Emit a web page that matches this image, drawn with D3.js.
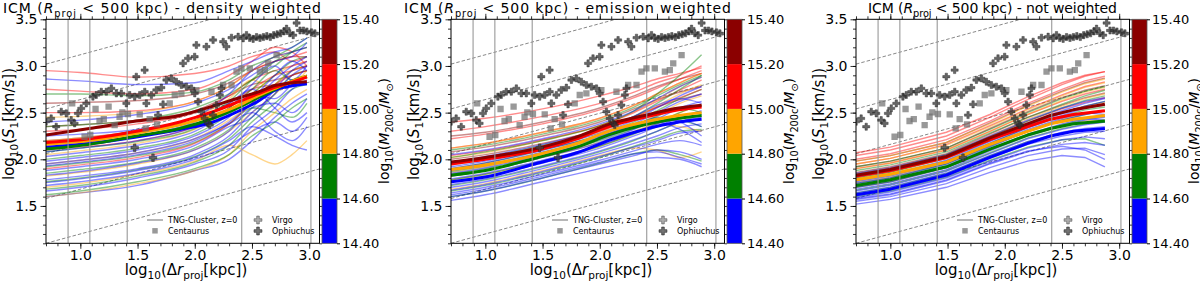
<!DOCTYPE html>
<html><head><meta charset="utf-8">
<script src="https://cdn.jsdelivr.net/npm/d3@7"></script>
<style>body{margin:0;background:#fff}svg text{font-family:"DejaVu Sans",sans-serif;fill:#000}</style>
</head><body><svg id="c" width="1200" height="281"></svg>
<script>
// ---------------- DATA ----------------
const panelTitles = ["density weighted", "emission weighted", "not weighted"];
const massBins = [14.4, 14.6, 14.8, 15.0, 15.2, 15.4];
const binColors = ["#0000ff", "#008000", "#ffa500", "#ff0000", "#8b0000"];
const cbTickLabels = ["14.40", "14.60", "14.80", "15.00", "15.20", "15.40"];
const xTicks = [1.0, 1.5, 2.0, 2.5, 3.0];
const yTicks = [1.5, 2.0, 2.5, 3.0, 3.5];
const vLines = [0.893, 1.083, 1.41, 2.41, 3.015];
const kolmoStart = [1.10, 1.58, 2.06, 2.54, 3.02]; // value at x=0.7 of slope-1/3 guides

// thin-line knots per panel
const p1Knots = [0.7, 1.0, 1.5, 2.0, 2.3, 2.5, 2.7, 2.85, 2.98];
const p2Knots = [0.7, 1.0, 1.5, 2.0, 2.3, 2.5, 2.7, 2.89];
const p3Knots = [0.7, 1.0, 1.49, 1.87, 2.2, 2.5, 2.7, 2.875];

const p1Blue = [
 [1.60,1.64,1.72,1.88,2.00,2.20,2.45,2.60,2.70],[1.66,1.70,1.80,1.95,2.10,2.35,2.55,2.75,2.85],
 [1.72,1.76,1.85,2.00,2.15,2.30,2.40,2.30,2.45],[1.78,1.82,1.90,2.05,2.25,2.50,2.70,2.90,3.00],
 [1.83,1.87,1.96,2.10,2.30,2.55,2.60,2.50,2.65],[1.88,1.92,2.00,2.15,2.35,2.45,2.75,2.95,3.05],
 [1.93,1.97,2.05,2.20,2.40,2.60,2.85,3.00,3.10],[1.98,2.02,2.10,2.25,2.45,2.70,2.65,2.80,2.90],
 [2.03,2.07,2.15,2.30,2.50,2.65,2.90,3.05,2.95],[2.08,2.12,2.20,2.35,2.55,2.80,3.00,2.85,3.00],
 [2.15,2.18,2.25,2.40,2.60,2.75,2.55,2.40,2.50],[2.25,2.27,2.32,2.45,2.70,2.95,3.10,3.15,3.20],
 [2.40,2.42,2.48,2.60,2.75,2.90,3.05,3.10,3.25],[2.86,2.84,2.80,2.82,2.95,3.05,3.15,3.20,3.30],
 [1.75,1.79,1.88,2.02,2.20,2.35,2.25,2.15,2.10],[1.95,1.99,2.07,2.22,2.38,2.50,2.30,2.20,2.35]];
const p1Green = [
 [1.68,1.72,1.82,1.97,2.15,2.40,2.60,2.75,2.80],[1.76,1.80,1.89,2.03,2.22,2.45,2.70,2.90,2.95],
 [1.85,1.89,1.97,2.12,2.32,2.55,2.80,2.95,3.00],[1.92,1.96,2.04,2.18,2.38,2.55,2.50,2.45,2.60],
 [2.00,2.04,2.12,2.27,2.48,2.70,2.90,3.05,3.10],[2.08,2.12,2.19,2.33,2.55,2.75,2.95,2.85,2.90],
 [2.18,2.21,2.28,2.42,2.62,2.85,3.05,3.15,3.20],[2.35,2.37,2.42,2.55,2.70,2.85,3.00,3.15,3.25],
 [2.70,2.70,2.68,2.72,2.85,3.00,3.10,3.20,3.30],[1.62,1.66,1.76,1.90,2.05,2.25,2.40,2.55,2.65]];
const p1Orange = [
 [1.70,1.74,1.84,1.98,2.15,2.05,1.95,2.05,2.20],[1.82,1.86,1.95,2.10,2.30,2.50,2.70,2.85,2.90],
 [1.95,1.99,2.07,2.22,2.42,2.60,2.80,2.95,3.00],[2.05,2.09,2.17,2.32,2.52,2.70,2.90,3.00,3.05],
 [2.20,2.23,2.30,2.45,2.65,2.85,2.75,2.80,2.95],[2.45,2.46,2.50,2.62,2.78,2.95,3.10,3.15,3.20],
 [1.60,1.64,1.74,1.88,2.05,2.30,2.50,2.65,2.75]];
const p1Red = [
 [2.95,2.93,2.88,2.92,3.00,3.10,3.15,3.05,3.10],[2.75,2.73,2.70,2.75,2.90,3.05,3.20,3.15,3.00],
 [2.50,2.50,2.52,2.62,2.78,2.95,3.05,3.10,3.15],[2.30,2.32,2.38,2.50,2.68,2.85,2.95,3.00,3.05],
 [2.10,2.13,2.20,2.35,2.55,2.75,2.90,2.95,3.00],[1.90,1.94,2.02,2.17,2.38,2.60,2.80,2.90,2.95]];
const p1DarkRed = [
 [2.60,2.61,2.63,2.70,2.82,2.95,3.05,3.10,3.10],[2.35,2.37,2.42,2.52,2.68,2.80,2.85,2.90,2.95],
 [2.20,2.23,2.30,2.42,2.60,2.75,2.80,2.82,2.90]];

const p2Blue = [
 [1.56,1.62,1.76,1.90,1.98,2.02,2.00,1.92],[1.60,1.66,1.80,1.95,2.04,2.10,2.08,2.00],
 [1.64,1.70,1.84,1.99,2.09,2.16,2.20,2.15],[1.67,1.73,1.87,2.03,2.13,2.20,2.28,2.30],
 [1.70,1.76,1.90,2.06,2.17,2.25,2.34,2.38],[1.73,1.79,1.93,2.09,2.21,2.30,2.40,2.45],
 [1.76,1.82,1.96,2.12,2.25,2.35,2.45,2.52],[1.79,1.85,1.99,2.15,2.28,2.38,2.42,2.35],
 [1.82,1.88,2.02,2.18,2.32,2.43,2.55,2.62],[1.85,1.91,2.05,2.21,2.35,2.45,2.40,2.25],
 [1.88,1.94,2.08,2.24,2.38,2.50,2.62,2.70],[1.92,1.98,2.12,2.28,2.42,2.55,2.68,2.78],
 [1.97,2.03,2.16,2.32,2.46,2.58,2.65,2.60],[2.05,2.10,2.22,2.38,2.52,2.65,2.78,2.88],
 [1.62,1.68,1.82,1.97,2.06,2.08,2.02,1.95],[1.90,1.96,2.10,2.25,2.36,2.40,2.32,2.18]];
const p2Green = [
 [1.60,1.66,1.80,1.96,2.06,2.10,2.05,1.98],[1.66,1.72,1.86,2.02,2.14,2.22,2.30,2.32],
 [1.72,1.78,1.92,2.08,2.20,2.30,2.40,2.48],[1.78,1.84,1.98,2.14,2.27,2.38,2.50,2.58],
 [1.84,1.90,2.04,2.20,2.33,2.44,2.42,2.35],[1.90,1.96,2.10,2.26,2.40,2.52,2.65,2.75],
 [1.96,2.02,2.15,2.31,2.46,2.60,2.75,2.90],[2.02,2.08,2.20,2.36,2.52,2.70,2.90,3.12],
 [2.10,2.15,2.27,2.42,2.56,2.68,2.80,2.90],[1.87,1.93,2.07,2.23,2.36,2.46,2.55,2.50]];
const p2Orange = [
 [1.68,1.74,1.88,2.04,2.12,2.10,2.02,2.08],[1.78,1.84,1.98,2.14,2.28,2.40,2.50,2.58],
 [1.86,1.92,2.06,2.22,2.36,2.48,2.60,2.68],[1.94,2.00,2.13,2.29,2.44,2.57,2.70,2.80],
 [2.02,2.07,2.20,2.36,2.51,2.64,2.78,2.88],[2.12,2.17,2.29,2.44,2.58,2.70,2.82,2.92],
 [1.82,1.88,2.02,2.18,2.30,2.38,2.35,2.30]];
const p2Red = [
 [2.40,2.44,2.54,2.68,2.78,2.86,2.92,2.98],[2.30,2.35,2.46,2.60,2.72,2.82,2.90,3.00],
 [2.22,2.27,2.38,2.53,2.66,2.76,2.86,2.95],[2.12,2.17,2.29,2.44,2.58,2.70,2.82,2.92],
 [2.04,2.09,2.21,2.36,2.50,2.62,2.74,2.85],[1.96,2.01,2.14,2.30,2.44,2.56,2.66,2.75]];
const p2DarkRed = [
 [2.25,2.29,2.40,2.55,2.68,2.78,2.86,2.92],[2.08,2.13,2.25,2.40,2.54,2.64,2.72,2.78],
 [2.00,2.05,2.17,2.32,2.46,2.56,2.64,2.70]];

const p3Blue = [
 [1.52,1.57,1.70,1.86,1.98,2.04,2.02,1.92],[1.55,1.60,1.74,1.91,2.04,2.11,2.12,2.05],
 [1.57,1.62,1.77,1.95,2.08,2.16,2.18,2.15],[1.59,1.65,1.80,1.98,2.12,2.21,2.24,2.22],
 [1.61,1.67,1.82,2.01,2.16,2.25,2.29,2.30],[1.64,1.70,1.85,2.04,2.19,2.29,2.33,2.35],
 [1.66,1.72,1.87,2.06,2.22,2.32,2.37,2.40],[1.68,1.74,1.89,2.09,2.25,2.36,2.42,2.45],
 [1.70,1.76,1.91,2.11,2.27,2.38,2.44,2.42],[1.72,1.78,1.93,2.13,2.30,2.42,2.48,2.52],
 [1.74,1.80,1.95,2.15,2.32,2.44,2.50,2.48],[1.76,1.82,1.97,2.17,2.34,2.47,2.55,2.58],
 [1.78,1.84,1.99,2.19,2.36,2.49,2.57,2.62],[1.81,1.87,2.02,2.22,2.39,2.52,2.60,2.65],
 [1.58,1.63,1.78,1.96,2.09,2.14,2.10,2.00],[1.85,1.91,2.05,2.25,2.42,2.55,2.62,2.66]];
const p3Green = [
 [1.60,1.66,1.81,1.99,2.13,2.21,2.22,2.15],[1.64,1.70,1.85,2.04,2.19,2.28,2.32,2.33],
 [1.67,1.73,1.88,2.07,2.23,2.33,2.38,2.40],[1.70,1.76,1.91,2.10,2.26,2.37,2.43,2.46],
 [1.74,1.80,1.95,2.14,2.30,2.42,2.48,2.52],[1.77,1.83,1.98,2.17,2.34,2.46,2.53,2.56],
 [1.80,1.86,2.01,2.20,2.37,2.50,2.57,2.62],[1.84,1.90,2.05,2.24,2.41,2.55,2.63,2.68],
 [1.88,1.94,2.08,2.28,2.45,2.59,2.68,2.74],[1.92,1.98,2.12,2.32,2.50,2.65,2.73,2.78]];
const p3Orange = [
 [1.70,1.76,1.91,2.10,2.26,2.36,2.41,2.42],[1.75,1.81,1.96,2.15,2.31,2.43,2.49,2.52],
 [1.80,1.86,2.01,2.20,2.37,2.50,2.57,2.61],[1.85,1.91,2.05,2.25,2.43,2.57,2.65,2.70],
 [1.90,1.96,2.10,2.30,2.48,2.63,2.72,2.77],[1.95,2.01,2.15,2.35,2.53,2.68,2.77,2.82],
 [1.98,2.04,2.18,2.38,2.57,2.72,2.81,2.86]];
const p3Red = [
 [1.84,1.90,2.04,2.24,2.41,2.54,2.61,2.66],[1.90,1.96,2.10,2.30,2.48,2.62,2.70,2.75],
 [1.95,2.01,2.16,2.36,2.54,2.69,2.78,2.83],[2.00,2.06,2.21,2.41,2.60,2.75,2.84,2.89],
 [2.04,2.10,2.25,2.45,2.64,2.80,2.89,2.94],[2.07,2.13,2.29,2.48,2.67,2.82,2.90,2.94]];
const p3DarkRed = [
 [1.86,1.92,2.06,2.27,2.45,2.58,2.66,2.71],[1.92,1.98,2.12,2.33,2.51,2.66,2.74,2.79],
 [1.98,2.04,2.18,2.39,2.58,2.73,2.82,2.87]];

// median (thick) lines per panel: order blue, green, orange, red, darkred
const p1MedKnots = [0.7,1.08,1.49,1.87,2.16,2.39,2.55,2.70,2.86,2.98];
const p1Median = [
 [2.13,2.17,2.24,2.32,2.40,2.52,2.62,2.74,2.79,2.81],
 [2.11,2.16,2.25,2.33,2.44,2.56,2.66,2.75,2.84,2.89],
 [2.16,2.20,2.28,2.37,2.47,2.58,2.68,2.76,2.84,2.89],
 [2.18,2.22,2.30,2.40,2.51,2.62,2.70,2.77,2.83,2.88],
 [2.26,2.33,2.41,2.47,2.57,2.66,2.72,2.79,2.82,2.83]];
const p2MedKnots = [0.7,1.0,1.46,1.8,2.1,2.39,2.69,2.89];
const p2Median = [
 [1.76,1.81,1.96,2.07,2.21,2.32,2.40,2.43],
 [1.83,1.88,2.02,2.13,2.27,2.37,2.44,2.47],
 [1.89,1.94,2.05,2.17,2.31,2.40,2.47,2.50],
 [1.95,2.00,2.10,2.22,2.36,2.45,2.53,2.56],
 [1.97,2.02,2.12,2.24,2.385,2.47,2.55,2.58]];
const p3MedKnots = [0.7,1.0,1.49,1.87,2.2,2.4,2.6,2.875];
const p3Median = [
 [1.62,1.68,1.83,2.02,2.17,2.25,2.30,2.33],
 [1.72,1.78,1.92,2.11,2.26,2.33,2.38,2.41],
 [1.78,1.84,1.97,2.16,2.30,2.38,2.43,2.47],
 [1.82,1.88,2.02,2.21,2.35,2.43,2.48,2.52],
 [1.83,1.89,2.03,2.23,2.38,2.47,2.53,2.59]];

// observations [log10 dr, log10 S1]
const centaurus = [[0.929,2.599],[1.037,2.242],[1.087,2.260],[1.133,2.539],[1.168,2.410],[1.205,2.43],
 [1.247,2.564],[1.300,2.367],[1.343,2.456],[1.367,2.503],[1.416,2.485],[1.519,2.481],[1.571,2.331],
 [1.606,2.431],[1.670,2.374],[1.781,2.599],[1.825,2.689],[1.883,2.706],[2.014,2.742],[2.146,2.724],
 [2.248,2.796],[2.321,2.796],[2.365,2.939],[2.408,2.974],[2.481,2.974],[2.569,2.939],[2.612,2.956],
 [2.642,3.028],[2.715,3.117]];
const virgo = [[1.475,2.124],[1.635,2.017]];
const ophiuchus = [[0.701,2.403],[0.745,2.438],[0.789,2.349],[0.833,2.510],[0.877,2.492],[0.920,2.420],
 [0.950,2.385],[0.979,2.492],[1.008,2.546],[1.052,2.599],[1.110,2.671],[1.139,2.689],[1.183,2.724],
 [1.227,2.724],[1.271,2.760],[1.315,2.706],[1.358,2.706],[1.402,2.599],[1.431,2.689],[1.475,2.671],
 [1.519,2.689],[1.563,2.724],[1.577,2.599],[1.621,2.689],[1.664,2.743],[1.708,2.768],[1.752,2.850],
 [1.796,2.867],[1.839,2.831],[1.883,2.796],[1.927,2.778],[1.971,2.760],[2.000,2.706],[2.029,2.617],
 [2.058,2.510],[2.087,2.438],[2.117,2.385],[2.131,2.367],[2.160,2.474],[2.189,2.581],[2.219,2.689],
 [2.233,2.760],[1.489,2.885],[1.562,2.956],[1.679,2.474],[1.723,2.589],
 [1.898,3.028],[1.941,3.082],[1.999,3.099],[2.014,3.224],[2.102,3.207],[2.160,3.278],[2.248,3.260],
 [2.277,3.207],[2.321,3.303],[2.379,3.314],[2.423,3.296],[2.452,3.332],[2.48,3.30],[2.51,3.29],
 [2.54,3.31],[2.57,3.30],[2.60,3.31],[2.63,3.32],[2.66,3.31],[2.69,3.33],[2.72,3.34],[2.75,3.35],
 [2.78,3.37],[2.802,3.40],[2.83,3.35],[2.86,3.33],[2.89,3.46],[2.92,3.38],[2.95,3.38],[2.98,3.37],
 [3.02,3.36],[3.05,3.35]];

// ---------------- DRAWING ----------------
const svg = d3.select("#c");
const defs = svg.append("defs");
const panelOffsets = [0, 405, 810];
const titleCenters = [162, 162.5, 182.5];
const titleWidths = [318, 327, 249];
const axL = 46, axR = 319.5, axT = 19.3, axB = 243.3;
const cbX0 = 322, cbX1 = 337;
const thinSets = [
  {knots:p1Knots, sets:[p1Blue,p1Green,p1Orange,p1Red,p1DarkRed], mk:p1MedKnots, med:p1Median, curve:d3.curveMonotoneX},
  {knots:p2Knots, sets:[p2Blue,p2Green,p2Orange,p2Red,p2DarkRed], mk:p2MedKnots, med:p2Median, curve:d3.curveMonotoneX},
  {knots:p3Knots, sets:[p3Blue,p3Green,p3Orange,p3Red,p3DarkRed], mk:p3MedKnots, med:p3Median, curve:d3.curveLinear}];

function rich(textSel, parts, size) {
  let sub = 0;
  parts.forEach(p => {
    const ts = textSel.append("tspan").text(p.t);
    const want = p.sub ? 1 : 0;
    if (want !== sub) ts.attr("dy", want ? size * 0.28 : -size * 0.28);
    if (p.sub) ts.attr("font-size", size * 0.7);
    if (p.it) ts.attr("font-style", "italic");
    sub = want;
  });
}

function drawPanel(i) {
  const cfg = thinSets[i];
  const g = svg.append("g").attr("transform", `translate(${panelOffsets[i]},0)`);
  const x = d3.scaleLinear().domain([0.7, 3.09]).range([axL, axR]);
  const y = d3.scaleLinear().domain([1.1, 3.5]).range([axB, axT]);
  const cid = "clip" + i;
  defs.append("clipPath").attr("id", cid).append("rect")
    .attr("x", axL).attr("y", axT).attr("width", axR - axL).attr("height", axB - axT);
  const plot = g.append("g").attr("clip-path", `url(#${cid})`);

  // Kolmogorov-slope guides
  kolmoStart.forEach(c => {
    plot.append("line").attr("x1", x(0.7)).attr("y1", y(c))
      .attr("x2", x(3.09)).attr("y2", y(c + (3.09 - 0.7) / 3))
      .attr("stroke", "#888").attr("stroke-width", 1).attr("stroke-dasharray", "3.5,2");
  });

  // thin lines, interleaved by color
  const thinLine = d3.line().x((d, j) => x(cfg.knots[j])).y(d => y(d)).curve(cfg.curve);
  const maxN = d3.max(cfg.sets, s => s.length);
  for (let j = 0; j < maxN; j++) {
    cfg.sets.forEach((s, k) => {
      if (j < s.length) plot.append("path").attr("d", thinLine(s[j])).attr("fill", "none")
        .attr("stroke", binColors[k]).attr("stroke-width", 1.4).attr("stroke-opacity", 0.45);
    });
  }
  // medians
  const medLine = d3.line().x((d, j) => x(cfg.mk[j])).y(d => y(d)).curve(cfg.curve);
  cfg.med.forEach((m, k) => {
    plot.append("path").attr("d", medLine(m)).attr("fill", "none")
      .attr("stroke", binColors[k]).attr("stroke-width", 3).attr("stroke-linejoin", "round");
  });

  // vertical reference lines
  vLines.forEach(v => {
    plot.append("line").attr("x1", x(v)).attr("x2", x(v)).attr("y1", axT).attr("y2", axB)
      .attr("stroke", "#999").attr("stroke-opacity", 0.85).attr("stroke-width", 1.3);
  });

  // observations
  plot.selectAll(".cen").data(centaurus).join("path")
    .attr("transform", d => `translate(${x(d[0])},${y(d[1])})`)
    .attr("d", d3.symbol(d3.symbolSquare, 40)).attr("fill", "#6e6e6e").attr("fill-opacity", 0.7);
  plot.selectAll(".oph").data(ophiuchus).join("path")
    .attr("transform", d => `translate(${x(d[0])},${y(d[1])})`)
    .attr("d", d3.symbol(d3.symbolCross, 28)).attr("fill", "#333").attr("fill-opacity", 0.75)
    .attr("stroke", "#222").attr("stroke-opacity", 0.5).attr("stroke-width", 0.8);
  plot.selectAll(".vir").data(virgo).join("path")
    .attr("transform", d => `translate(${x(d[0])},${y(d[1])})`)
    .attr("d", d3.symbol(d3.symbolCross, 32)).attr("fill", "#444").attr("fill-opacity", 0.8)
    .attr("stroke", "#222").attr("stroke-opacity", 0.6).attr("stroke-width", 0.8);

  // axes
  const minorX = d3.range(7, 31).map(v => v / 10);
  const minorY = d3.range(11, 36).map(v => v / 10);
  const ax = (a) => a.call(s => s.select(".domain").remove());
  g.append("g").attr("transform", `translate(0,${axB})`)
    .call(d3.axisBottom(x).tickValues(minorX).tickSize(3).tickFormat("")).call(ax);
  g.append("g").attr("transform", `translate(0,${axB})`)
    .call(d3.axisBottom(x).tickValues(xTicks).tickSize(5.5).tickPadding(1).tickFormat(d3.format(".1f"))).call(ax)
    .selectAll("text").attr("font-size", 14).attr("font-family", "DejaVu Sans");
  g.append("g").attr("transform", `translate(0,${axT})`)
    .call(d3.axisTop(x).tickValues(minorX).tickSize(3).tickFormat("")).call(ax);
  g.append("g").attr("transform", `translate(0,${axT})`)
    .call(d3.axisTop(x).tickValues(xTicks).tickSize(5.5).tickFormat("")).call(ax);
  g.append("g").attr("transform", `translate(${axL},0)`)
    .call(d3.axisLeft(y).tickValues(minorY).tickSize(3).tickFormat("")).call(ax);
  g.append("g").attr("transform", `translate(${axL},0)`)
    .call(d3.axisLeft(y).tickValues(yTicks).tickSize(5.5).tickPadding(3).tickFormat(d3.format(".1f"))).call(ax)
    .selectAll("text").attr("font-size", 14).attr("font-family", "DejaVu Sans");
  g.append("g").attr("transform", `translate(${axR},0)`)
    .call(d3.axisRight(y).tickValues(minorY).tickSize(2.5).tickFormat("")).call(ax);
  g.selectAll(".tick line").attr("stroke", "#000").attr("stroke-width", 0.8);
  g.append("rect").attr("x", axL).attr("y", axT).attr("width", axR - axL).attr("height", axB - axT)
    .attr("fill", "none").attr("stroke", "#000").attr("stroke-width", 1);

  // legend
  const lg = g.append("g").attr("font-size", 8);
  lg.append("line").attr("x1", 147).attr("x2", 163).attr("y1", 220).attr("y2", 220)
    .attr("stroke", "#888").attr("stroke-width", 1.2);
  lg.append("text").attr("x", 168).attr("y", 222.8).text("TNG-Cluster, z=0");
  lg.append("path").attr("transform", "translate(155,230.8)").attr("d", d3.symbol(d3.symbolSquare, 30))
    .attr("fill", "#6e6e6e").attr("fill-opacity", 0.7);
  lg.append("text").attr("x", 168).attr("y", 233.6).text("Centaurus");
  lg.append("path").attr("transform", "translate(258,220)").attr("d", d3.symbol(d3.symbolCross, 34))
    .attr("fill", "#777").attr("fill-opacity", 0.6).attr("stroke", "#444").attr("stroke-opacity", 0.5);
  lg.append("text").attr("x", 272).attr("y", 222.8).text("Virgo");
  lg.append("path").attr("transform", "translate(258,231)").attr("d", d3.symbol(d3.symbolCross, 34))
    .attr("fill", "#444").attr("fill-opacity", 0.75).attr("stroke", "#222").attr("stroke-opacity", 0.6);
  lg.append("text").attr("x", 272).attr("y", 233.8).text("Ophiuchus");

  // title
  const t = g.append("text").attr("x", titleCenters[i]).attr("y", 13).attr("text-anchor", "middle")
    .attr("font-size", 14).attr("textLength", titleWidths[i]).attr("lengthAdjust", "spacing");
  rich(t, [{t:"ICM ("},{t:"R",it:true},{t:"proj",sub:true},{t:" < 500 kpc) - " + panelTitles[i]}], 14);

  // axis labels
  const xl = g.append("text").attr("x", 186).attr("y", 274.5).attr("text-anchor", "middle").attr("font-size", 15);
  rich(xl, [{t:"log"},{t:"10",sub:true},{t:"(\u0394"},{t:"r",it:true},{t:"proj",sub:true},{t:"[kpc])"}], 15);
  const yl = g.append("text").attr("transform", "translate(13.5,124) rotate(-90)").attr("text-anchor", "middle").attr("font-size", 15);
  rich(yl, [{t:"log"},{t:"10",sub:true},{t:"("},{t:"S",it:true},{t:"1",sub:true},{t:"[km/s])"}], 15);

  // colorbar
  const cy = d3.scaleLinear().domain([14.4, 15.4]).range([axB, axT]);
  binColors.forEach((c, k) => {
    g.append("rect").attr("x", cbX0).attr("width", cbX1 - cbX0)
      .attr("y", cy(massBins[k + 1])).attr("height", cy(massBins[k]) - cy(massBins[k + 1])).attr("fill", c);
  });
  g.append("rect").attr("x", cbX0).attr("y", axT).attr("width", cbX1 - cbX0).attr("height", axB - axT)
    .attr("fill", "none").attr("stroke", "#555").attr("stroke-width", 0.8);
  const cbAx = g.append("g").attr("transform", `translate(${cbX1},0)`)
    .call(d3.axisRight(cy).tickValues(massBins).tickSize(3).tickPadding(2).tickFormat((d, k) => cbTickLabels[k]));
  cbAx.select(".domain").remove();
  cbAx.selectAll("text").attr("font-size", 13).attr("font-family", "DejaVu Sans");
  const cl = g.append("text").attr("transform", "translate(389,131) rotate(-90)").attr("text-anchor", "middle").attr("font-size", 14);
  rich(cl, [{t:"log"},{t:"10",sub:true},{t:"("},{t:"M",it:true},{t:"200c",sub:true},{t:"/"},{t:"M",it:true},{t:"\u2299",sub:true},{t:")"}], 14);
}

[0, 1, 2].forEach(drawPanel);
</script></body></html>
